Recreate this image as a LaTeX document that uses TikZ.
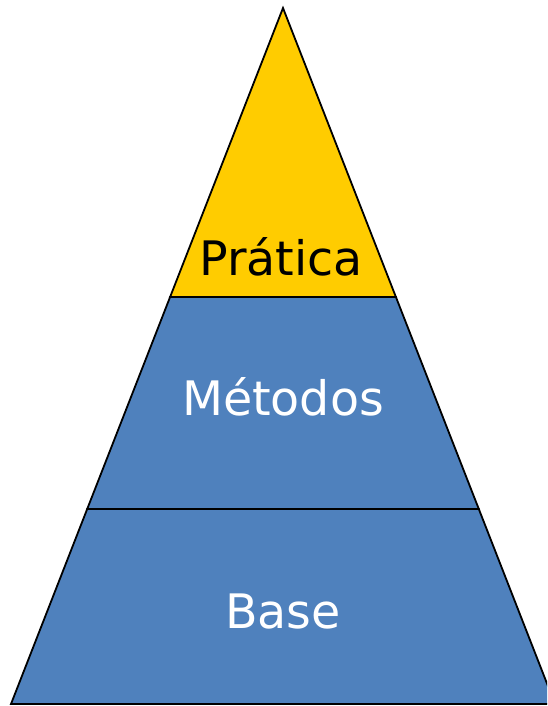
\documentclass[tikz,border=0pt]{standalone}
\usepackage{fontspec}
\setmainfont{DejaVu Sans}
\definecolor{topyellow}{HTML}{FFCC00}
\definecolor{layerblue}{HTML}{4F81BD}
\tikzset{
  layer/.style={draw=black,line width=1.8pt,line join=miter},
  label/.style={font=\fontsize{47.5}{57}\selectfont,inner sep=0pt}
}
\begin{document}
\begin{tikzpicture}[x=1pt,y=-1pt]
  \useasboundingbox (0,0) rectangle (547,706);
  \clip (0,0) rectangle (547,706);
  \coordinate (top) at (283,8);
  \coordinate (ml) at (170.1,297);
  \coordinate (mr) at (395.9,297);
  \coordinate (ll) at (87.2,509);
  \coordinate (lr) at (478.8,509);
  \coordinate (bl) at (11,704);
  \coordinate (br) at (555,704);
  % layers
  \filldraw[layer,fill=layerblue] (ll) -- (lr) -- (br) -- (bl) -- cycle;
  \filldraw[layer,fill=layerblue] (ml) -- (mr) -- (lr) -- (ll) -- cycle;
  \filldraw[layer,fill=topyellow] (top) -- (mr) -- (ml) -- cycle;
  % texts
  \node[label,anchor=base] (pratica) at (281,275) {Prática};
  \node[label,anchor=base,text=white] (metodos) at (283,415) {Métodos};
  \node[label,anchor=base,text=white] (base) at (283,628) {Base};
\end{tikzpicture}
\end{document}
